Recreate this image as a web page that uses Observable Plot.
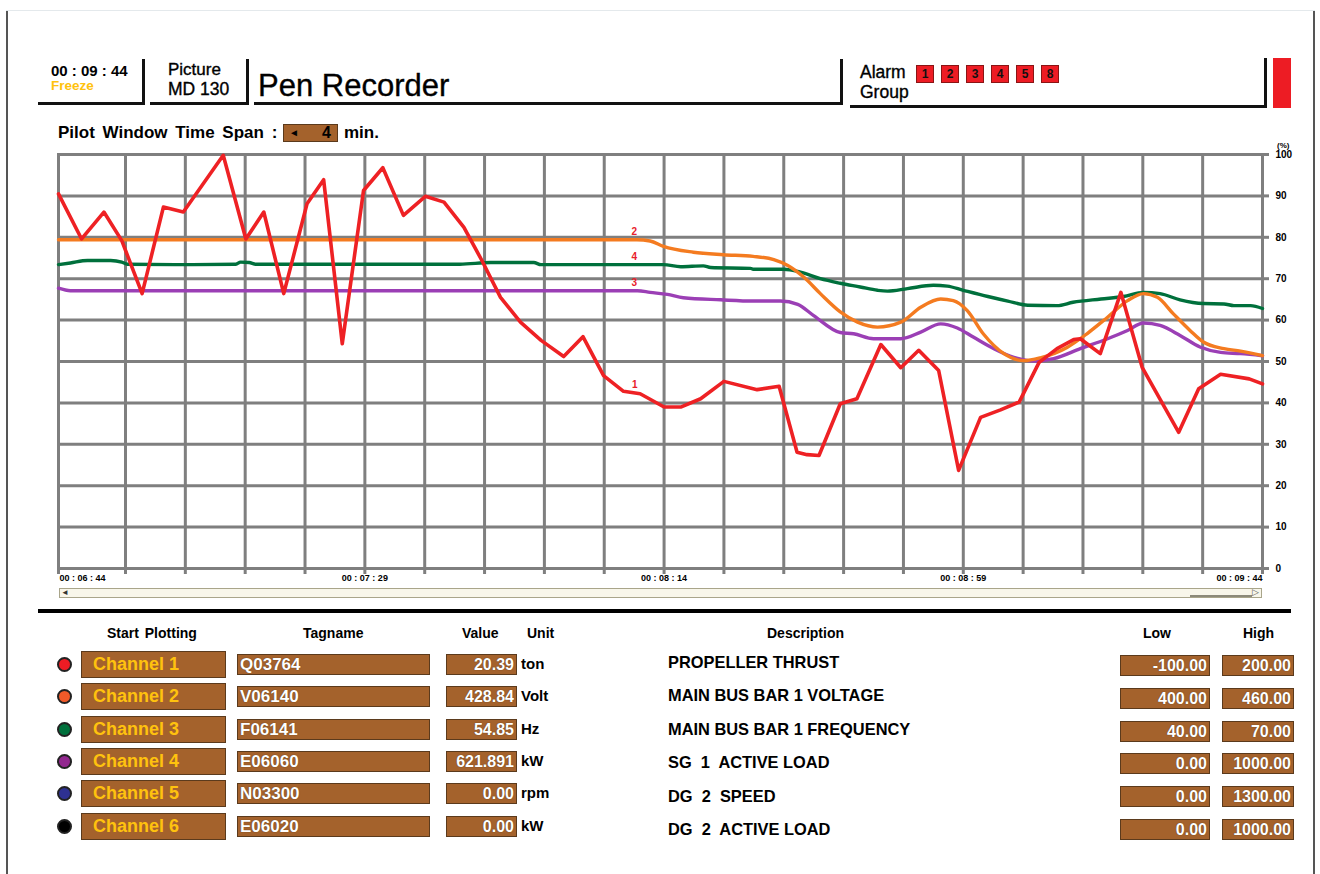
<!DOCTYPE html>
<html><head><meta charset="utf-8">
<script src="https://cdn.jsdelivr.net/npm/d3@7"></script>
<script src="https://cdn.jsdelivr.net/npm/@observablehq/plot@0.6"></script>
<style>
body{margin:0;background:#fff;font-family:"Liberation Sans",Arial,Helvetica,sans-serif;}
#page{position:relative;width:1320px;height:874px;overflow:hidden;background:#fff;}
.a{position:absolute;white-space:pre;}
.th{-webkit-text-stroke:0.35px #000;}
.ln{position:absolute;background:#111;}
.brown{position:absolute;background:#a4622c;border:1px solid #5b3a1c;box-sizing:border-box;color:#fff;font-weight:bold;white-space:pre;overflow:hidden;text-shadow:0 0 1px #4a2a10;}
.hdr{position:absolute;font-weight:bold;font-size:14px;line-height:16px;color:#000;white-space:pre;}
#chart{position:absolute;left:0;top:138px;}
</style></head><body><div id="page"></div>
<script>
// ---------- data ----------
const timeTickSec = [0, 45, 90, 135, 180];
const timeTickLabels = ["00 : 06 : 44", "00 : 07 : 29", "00 : 08 : 14", "00 : 08 : 59", "00 : 09 : 44"];
const gridSec = [0, 9, 18, 27, 36, 45, 54, 63, 72, 81, 90, 99, 108, 117, 126, 135, 144, 153, 162, 171, 180];
const percentTicks = [0, 10, 20, 30, 40, 50, 60, 70, 80, 90, 100];

// pen 1 (red) [seconds after 00:06:44, %]
const ch1 = [[0,90.5],[3.1,79.6],[6.1,86.1],[8.5,79.2],[11.5,66.4],[14.7,87.3],[17.7,86.1],[23.7,99.8],[27.1,79.6],[29.8,86.1],[32.8,66.4],[36.3,88.1],[38.8,93.9],[41.6,54.3],[44.8,91.3],[47.7,96.8],[50.8,85.3],[54.1,89.9],[56.9,88.5],[59.9,82.4],[62.6,74.4],[65.4,65.5],[68.4,59.5],[71.5,55.1],[74.9,51.2],[77.8,56.0],[80.9,46.6],[83.9,42.8],[86.4,42.2],[90.0,39.0],[92.5,39.0],[95.5,41.0],[99.0,45.2],[104.0,43.2],[107.3,44.0],[110.0,28.1],[111.5,27.5],[113.3,27.3],[116.5,39.8],[119.0,41.0],[122.6,54.1],[125.6,48.5],[128.3,52.7],[131.3,47.8],[134.3,23.7],[137.6,36.5],[140.6,38.3],[143.4,40.2],[146.4,49.8],[149.1,53.1],[151.6,55.3],[152.6,55.5],[155.6,51.9],[158.7,66.7],[161.9,48.6],[167.4,32.9],[170.4,43.4],[173.7,46.9],[178.0,45.8],[180,44.6]];
// pen 2 (orange)
const ch2 = [[0,79.4],[85.9,79.4],[87.9,79.1],[89.9,77.8],[94.4,76.4],[98.9,75.8],[103.4,75.4],[106.5,74.6],[108.6,73.2],[111.0,70.4],[113.5,66.4],[116.5,62.0],[119.1,59.5],[122.1,58.3],[125.6,59.5],[128.6,63.1],[131.6,65.1],[133.5,64.7],[135.6,62.3],[138.0,56.7],[141.1,51.9],[144.1,50.2],[146.6,50.9],[150.6,53.4],[153.6,56.7],[156.7,60.7],[159.7,64.7],[162.1,66.4],[164.2,65.5],[166.6,61.5],[169.1,57.5],[171.1,54.7],[174.2,53.1],[176.7,52.5],[180,51.4]];
// pen 3 (green)
const ch3 = [[0,73.4],[1.6,73.8],[3.9,74.4],[7.0,74.4],[8.5,74.0],[9.3,73.5],[19.0,73.4],[25.6,73.5],[26.3,74.0],[27.6,73.9],[28.6,73.5],[59.3,73.5],[63.9,73.9],[70.4,73.9],[71.5,73.4],[89.9,73.4],[92.5,72.9],[95.9,73.1],[97.0,72.7],[103.0,72.5],[103.4,72.3],[108.0,72.3],[110.5,71.6],[113.5,70.0],[116.5,68.9],[119.5,68.0],[122.1,67.2],[123.6,67.0],[126.6,67.6],[130.5,68.4],[132.6,68.2],[135.0,67.2],[138.7,65.7],[141.7,64.6],[144.7,63.6],[149.1,63.5],[151.5,64.3],[155.7,65.1],[159.1,65.7],[162.1,66.7],[164.6,66.4],[167.6,64.9],[171.1,64.0],[174.2,63.9],[175.7,63.5],[178.2,63.5],[180,62.8]];
// pen 4 (purple)
const ch4 = [[0,67.7],[1.6,67.1],[86.0,67.1],[87.9,66.7],[90.5,66.2],[92.9,65.4],[98.5,64.9],[103.4,64.6],[107.5,64.6],[110.1,63.8],[112.5,61.1],[116.5,57.0],[118.5,56.7],[121.5,55.5],[125.6,55.5],[128.6,57.1],[131.6,59.1],[134.1,58.1],[136.5,55.9],[139.6,53.1],[142.6,51.0],[145.6,50.1],[148.6,50.7],[152.6,53.1],[156.7,55.5],[159.7,57.5],[162.1,59.3],[164.6,58.7],[167.6,56.3],[170.6,53.5],[173.7,52.2],[176.7,51.9],[180,51.4]];

const penLabelText = ["2", "4", "3", "1"];
const penLabelSec = [85.5, 85.5, 85.5, 85.6];
const penLabelValue = [81.4, 75.4, 69.1, 44.4];

const alarmGroups = ["1", "2", "3", "4", "5", "8"];

const channels = ["Channel 1", "Channel 2", "Channel 3", "Channel 4", "Channel 5", "Channel 6"];
const dotColors = ["#ed1c24", "#f15a29", "#00703c", "#92278f", "#2e3192", "#000000"];
const tagnames = ["Q03764", "V06140", "F06141", "E06060", "N03300", "E06020"];
const values = ["20.39", "428.84", "54.85", "621.891", "0.00", "0.00"];
const units = ["ton", "Volt", "Hz", "kW", "rpm", "kW"];
const descriptions = ["PROPELLER THRUST", "MAIN BUS BAR 1 VOLTAGE", "MAIN BUS BAR 1 FREQUENCY", "SG  1  ACTIVE LOAD", "DG  2  SPEED", "DG  2  ACTIVE LOAD"];
const lows = ["-100.00", "400.00", "40.00", "0.00", "0.00", "0.00"];
const highs = ["200.00", "460.00", "70.00", "1000.00", "1300.00", "1000.00"];

// ---------- page helpers ----------
const page = document.getElementById("page");
function el(cls, css, text) {
  const d = document.createElement("div");
  d.className = cls;
  d.style.cssText = css;
  if (text != null) d.textContent = text;
  page.appendChild(d);
  return d;
}

// page border
el("ln", "left:6px;top:10px;width:2px;height:864px;background:#555;");
el("ln", "left:1313px;top:10px;width:2px;height:864px;background:#555;");
el("ln", "left:6px;top:10px;width:1309px;height:1px;background:#e4e9ec;");

// ---------- header ----------
el("ln", "left:38px;top:102px;width:107px;height:3px;");
el("ln", "left:142px;top:59px;width:3px;height:46px;");
el("ln", "left:150px;top:102px;width:99px;height:3px;");
el("ln", "left:246px;top:59px;width:3px;height:46px;");
el("ln", "left:254px;top:102px;width:589px;height:3px;");
el("ln", "left:840px;top:59px;width:3px;height:46px;");
el("ln", "left:850px;top:105px;width:417px;height:3px;");
el("ln", "left:1264px;top:58px;width:3px;height:50px;");
el("ln", "left:1273px;top:58px;width:18px;height:50px;background:#ed1c24;");

el("a", "left:51px;top:63px;font-size:15px;line-height:16px;font-weight:bold;", "00 : 09 : 44");
el("a", "left:51px;top:79px;font-size:13.5px;line-height:14px;font-weight:bold;color:#ffc20e;", "Freeze");
el("a th", "left:168px;top:60px;font-size:17px;line-height:19px;", "Picture");
el("a th", "left:168px;top:80px;font-size:17.5px;line-height:19px;", "MD 130");
el("a th", "left:258px;top:69px;font-size:31px;line-height:33px;", "Pen Recorder");
el("a th", "left:860px;top:63px;font-size:17.5px;line-height:19px;", "Alarm");
el("a th", "left:860px;top:83px;font-size:17.5px;line-height:19px;", "Group");
alarmGroups.forEach((g, i) => {
  el("a", `left:${916 + 25 * i}px;top:65px;width:18px;height:18px;box-sizing:border-box;background:#ed1c24;border:1px solid #8a1515;font-size:12px;line-height:16px;font-weight:bold;text-align:center;color:#111;`, g);
});

// pilot window
el("a", "left:58px;top:124px;font-size:17px;line-height:18px;font-weight:bold;word-spacing:3px;", "Pilot Window Time Span :");
el("brown", "left:283px;top:124px;width:55px;height:18px;");
el("a", "left:289px;top:126px;font-size:10px;line-height:14px;color:#000;", "\u25C4");
el("a", "left:322px;top:124px;font-size:16px;line-height:18px;font-weight:bold;color:#000;", "4");
el("a", "left:344px;top:124px;font-size:17px;line-height:18px;font-weight:bold;", "min.");

// ---------- chart ----------
const pens = [
  {data: ch4, color: "#9b3fb5", w: 3.4, curve: "monotone-x"},
  {data: ch3, color: "#00703c", w: 3.4, curve: "monotone-x"},
  {data: ch2, color: "#f47b20", w: 3.4, curve: "monotone-x"},
  {data: ch1, color: "#ee2124", w: 3.6, curve: "linear"}
];
const penLabels = penLabelText.map((t, i) => ({label: t, t: penLabelSec[i], v: penLabelValue[i]}));
const xLabelRows = timeTickSec.map((t, i) => ({t, label: timeTickLabels[i]}));
const gridColor = "#7f7f7f";

// the recorder draws its first 9 s cell wider (67 px) than the other 19 cells (~59.8 px)
const recorderTime = t => (t <= 9 ? t * 67 / 9 : 67 + (t - 9) * 1137 / 171);

const chart = Plot.plot({
  width: 1320,
  height: 448,
  marginLeft: 58,
  marginRight: 58,
  marginTop: 16,
  marginBottom: 18,
  x: {transform: recorderTime, domain: [0, 1204]},
  y: {domain: [0, 100]},
  style: {fontFamily: '"Liberation Sans", Arial, sans-serif', background: "transparent", overflow: "visible"},
  marks: [
    Plot.gridX(gridSec, {stroke: gridColor, strokeOpacity: 1, strokeWidth: 3}),
    Plot.gridY(percentTicks, {stroke: gridColor, strokeOpacity: 1, strokeWidth: 3}),
    Plot.axisX(gridSec, {anchor: "bottom", tickSize: 6, stroke: gridColor, strokeWidth: 3, tickFormat: () => "", label: null}),
    Plot.axisY(percentTicks, {anchor: "right", tickSize: 6, tickPadding: 7, stroke: gridColor, strokeWidth: 3, fill: "#000", fontSize: 10, fontWeight: "bold", label: null}),
    Plot.frame({stroke: gridColor, strokeWidth: 3}),
    ...pens.map(p => Plot.line(p.data, {x: d => d[0], y: d => d[1], stroke: p.color, strokeWidth: p.w, curve: p.curve})),
    Plot.text(penLabels, {x: "t", y: "v", text: "label", fill: "#e8202a", fontSize: 10, fontWeight: "bold"}),
    Plot.text(xLabelRows.slice(0, 1), {x: "t", text: "label", frameAnchor: "bottom", dy: 12, dx: 1, textAnchor: "start", fontSize: 9, fontWeight: "bold", fill: "#000"}),
    Plot.text(xLabelRows.slice(1, 4), {x: "t", text: "label", frameAnchor: "bottom", dy: 12, textAnchor: "middle", fontSize: 9, fontWeight: "bold", fill: "#000"}),
    Plot.text(xLabelRows.slice(4), {x: "t", text: "label", frameAnchor: "bottom", dy: 12, textAnchor: "end", fontSize: 9, fontWeight: "bold", fill: "#000"}),
    Plot.text(["(%)"], {frameAnchor: "top-right", dx: 27, dy: -12, text: d => d, fontSize: 8, fontWeight: "bold", fill: "#000"})
  ]
});
chart.id = "chart";
page.appendChild(chart);

// scroll bar
el("a", "left:59px;top:588px;width:1203px;height:10px;box-sizing:border-box;background:#f8f6ea;border:1px solid #a9a58a;");
el("a", "left:61px;top:587px;font-size:8px;line-height:11px;color:#333;", "\u25C4");
el("ln", "left:1190px;top:595px;width:62px;height:2px;background:#8c8a7a;");
el("a", "left:1252px;top:587px;font-size:9px;line-height:11px;color:#555;", "\u25B7");

// separator
el("ln", "left:38px;top:609px;width:1253px;height:4px;background:#000;");

// ---------- table ----------
el("hdr", "left:107px;top:625px;word-spacing:2px;", "Start Plotting");
el("hdr", "left:303px;top:625px;", "Tagname");
el("hdr", "left:462px;top:625px;", "Value");
el("hdr", "left:527px;top:625px;", "Unit");
el("hdr", "left:767px;top:625px;", "Description");
el("hdr", "left:1143px;top:625px;", "Low");
el("hdr", "left:1243px;top:625px;", "High");

channels.forEach((c, i) => {
  const top = 651 + 32.3 * i;
  el("a", `left:57px;top:${top + 6}px;width:15px;height:15px;box-sizing:border-box;border-radius:50%;border:2px solid #222;background:${dotColors[i]};`);
  el("brown", `left:81px;top:${top}px;width:145px;height:27px;color:#ffc20e;font-size:18px;line-height:25px;padding-left:11px;text-shadow:none;`, c);
  el("brown", `left:237px;top:${top + 3}px;width:193px;height:21px;font-size:17px;line-height:19px;padding-left:2px;`, tagnames[i]);
  el("brown", `left:446px;top:${top + 3}px;width:71px;height:21px;font-size:16px;line-height:19px;text-align:right;padding-right:2px;`, values[i]);
  el("a", `left:521px;top:${top + 4}px;font-size:15px;line-height:18px;font-weight:bold;`, units[i]);
  const dc = 662 + 33.4 * i;
  el("a", `left:668px;top:${dc - 9}px;font-size:16.4px;line-height:18px;font-weight:bold;`, descriptions[i]);
  const rc = 665 + 32.8 * i;
  el("brown", `left:1120px;top:${rc - 10}px;width:90px;height:21px;font-size:16px;line-height:19px;text-align:right;padding-right:2px;`, lows[i]);
  el("brown", `left:1222px;top:${rc - 10}px;width:72px;height:21px;font-size:16px;line-height:19px;text-align:right;padding-right:2px;`, highs[i]);
});
</script></body></html>
